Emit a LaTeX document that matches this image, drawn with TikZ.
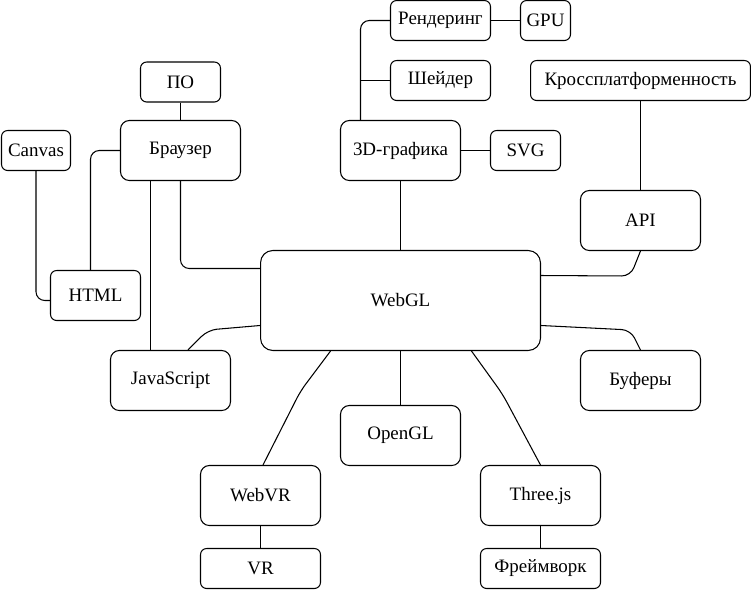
\documentclass[tikz,border=0pt]{standalone}
\usepackage{fontspec}
\setmainfont{Liberation Serif}
\usetikzlibrary{calc,positioning}

\tikzset{
  box/.style={draw, rounded corners=3.5pt, minimum height=0.8cm, inner sep=2pt, font=\fontsize{10.8}{12}\selectfont},
  bigbox/.style={box, rounded corners=5pt, minimum width=2.4cm, minimum height=1.2cm},
  link/.style={draw, rounded corners=5pt},
}

\begin{document}
\begin{tikzpicture}[x=0.02cm, y=-0.02cm, line width=0.6pt]
	\useasboundingbox (-0.5,-0.5) rectangle (750.5,588.5);

	% Центр
	\node[bigbox, minimum width=5.6cm, minimum height=2cm, rounded corners=7pt] (webgl) at (400,300) {WebGL};

	% Браузер и HTML
	\node[bigbox] (brauzer) at (180,150) {Браузер};
	\node[box, minimum width=1.6cm] (po) at (180,81.5) {ПО};
	\node[box, minimum width=1.38cm] (canvas) at (35.5,150) {Canvas};
	\node[box, minimum width=1.8cm, minimum height=1cm] (html) at (95,295) {HTML};
	\node[bigbox] (js) at (170,380) {JavaScript};

	% 3D-графика
	\node[bigbox] (gfx) at (400,150) {3D-графика};
	\node[box, minimum width=2cm] (rend) at (440,20) {Рендеринг};
	\node[box, minimum width=1cm] (gpu) at (545,20) {GPU};
	\node[box, minimum width=2cm] (shader) at (440,80) {Шейдер};
	\node[box, minimum width=1.4cm] (svg) at (525,150) {SVG};

	% Справа
	\node[box, minimum width=4.4cm] (cross) at (640,80) {Кроссплатформенность};
	\node[bigbox] (api) at (640,220) {API};
	\node[bigbox] (buf) at (640,380) {Буферы};

	% Снизу
	\node[bigbox] (opengl) at (400,435) {OpenGL};
	\node[bigbox] (webvr) at (260,495) {WebVR};
	\node[box, minimum width=2.4cm] (vr) at (260,568) {VR};
	\node[bigbox] (threejs) at (540,495) {Three.js};
	\node[box, minimum width=2.4cm] (fw) at (540,568) {Фреймворк};

	% Связи
	\draw (po) -- (brauzer);
	\draw[link] (brauzer.west) -| ([xshift=-0.1cm]html.north);
	\draw[link] (canvas.south) |- ([yshift=-0.1cm]html.west);
	\draw ([xshift=-0.6cm]brauzer.south) -- ([xshift=-0.6cm]brauzer.south |- js.north);
	\draw[link] (brauzer.south) |- ([yshift=0.64cm]webgl.west);

	\draw[link] ([xshift=-0.8cm]gfx.north) |- (rend.west);
	\draw ([xshift=-0.8cm]gfx.north |- shader.west) -- (shader.west);
	\draw (rend) -- (gpu);
	\draw (gfx) -- (svg);
	\draw (gfx) -- (webgl);

	\draw (cross) -- (api);
	\draw[link] (api.south) -- ([xshift=-0.2cm,yshift=-0.5cm]api.south) -- ([yshift=0.5cm]webgl.east);
	\draw[link] ([yshift=-0.5cm]webgl.east) -- ([xshift=-0.2cm,yshift=0.4cm]buf.north) -- (buf.north);
	\draw[link] ([yshift=-0.5cm]webgl.west) -- ([xshift=0.75cm,yshift=0.4cm]js.north) -- ([xshift=0.35cm]js.north);

	\draw[link] ([xshift=-1.4cm]webgl.south) -- ([xshift=-2cm,yshift=-0.8cm]webgl.south) -- ([xshift=0.05cm]webvr.north);
	\draw[link] ([xshift=1.42cm]webgl.south) -- ([xshift=2.04cm,yshift=-0.86cm]webgl.south) -- (threejs.north);
	\draw (webgl) -- (opengl);
	\draw (webvr) -- (vr);
	\draw (threejs) -- (fw);
\end{tikzpicture}
\end{document}
